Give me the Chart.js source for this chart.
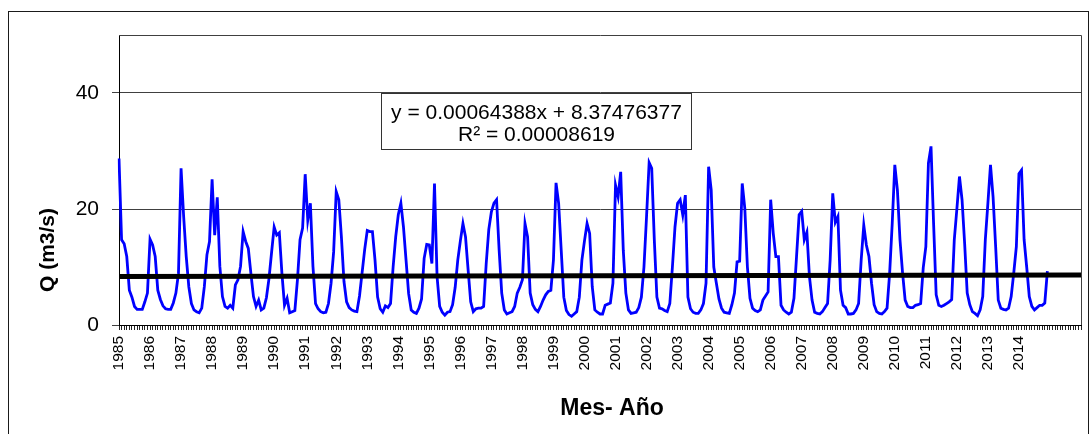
<!DOCTYPE html>
<html>
<head>
<meta charset="utf-8">
<script src="https://cdn.jsdelivr.net/npm/chart.js@4"></script>
<style>
html,body{margin:0;padding:0;background:#fff;}
#wrap{position:relative;width:1091px;height:434px;overflow:hidden;}
canvas{position:absolute;left:0;top:0;}
</style>
</head>
<body>
<div id="wrap"><canvas id="c" width="1091" height="434"></canvas></div>
<script>
// ---- data (monthly discharge Q, m3/s) ----
const years = ['1985','1986','1987','1988','1989','1990','1991','1992','1993','1994',
               '1995','1996','1997','1998','1999','2000','2001','2002','2003','2004',
               '2005','2006','2007','2008','2009','2010','2011','2012','2013','2014'];
const months = ['01','02','03','04','05','06','07','08','09','10','11','12'];

const q1985 = [28.7, 14.7, 14.0, 11.8, 6.0, 4.8, 3.2, 2.7, 2.7, 2.7, 4.0, 5.5];
const q1986 = [14.8, 13.8, 11.8, 6.0, 4.4, 3.3, 2.8, 2.7, 2.7, 3.8, 5.5, 8.9];
const q1987 = [27.0, 18.7, 11.8, 6.6, 3.7, 2.6, 2.3, 2.1, 2.9, 6.6, 12.1, 14.4];
const q1988 = [25.1, 15.5, 22.0, 10.1, 4.9, 3.2, 2.9, 3.4, 2.9, 6.9, 7.8, 10.1];
const q1989 = [16.1, 14.4, 13.2, 8.9, 4.9, 3.2, 4.3, 2.6, 2.9, 4.7, 8.0, 12.5];
const q1990 = [16.9, 15.5, 15.9, 8.9, 3.4, 4.6, 2.1, 2.3, 2.5, 7.8, 14.7, 16.7];
const q1991 = [26.0, 18.1, 21.0, 10.1, 3.7, 2.8, 2.3, 2.1, 2.2, 3.7, 7.2, 12.6];
const q1992 = [23.0, 21.6, 15.2, 7.5, 4.0, 3.0, 2.6, 2.4, 2.3, 5.0, 9.0, 13.0];
const q1993 = [16.3, 16.1, 16.1, 11.2, 4.8, 2.8, 2.2, 3.3, 3.0, 3.7, 10.0, 15.2];
const q1994 = [19.0, 21.0, 16.9, 11.2, 5.4, 2.6, 2.2, 2.0, 2.9, 4.5, 11.5, 13.9];
const q1995 = [13.8, 10.6, 24.4, 8.3, 3.2, 2.2, 1.7, 2.2, 2.3, 3.5, 6.5, 11.2];
const q1996 = [14.5, 17.5, 15.2, 9.5, 4.0, 2.3, 2.8, 2.9, 2.9, 3.2, 10.6, 16.5];
const q1997 = [19.5, 21.0, 21.6, 12.9, 5.5, 2.6, 1.9, 2.1, 2.3, 3.2, 5.5, 6.5];
const q1998 = [7.8, 17.5, 15.2, 5.5, 3.5, 2.7, 2.3, 3.2, 4.3, 5.2, 5.8, 6.0];
const q1999 = [11.2, 24.5, 21.0, 12.9, 4.8, 2.5, 1.8, 1.5, 1.9, 2.3, 4.8, 11.2];
const q2000 = [14.5, 17.5, 15.8, 6.6, 2.6, 2.2, 1.9, 1.9, 3.4, 3.6, 3.8, 7.2];
const q2001 = [24.1, 22.1, 26.4, 12.9, 5.5, 2.6, 2.0, 2.1, 2.2, 3.0, 4.8, 10.0];
const q2002 = [18.7, 28.0, 27.0, 14.7, 4.8, 2.9, 2.8, 2.5, 2.3, 3.7, 10.0, 16.9];
const q2003 = [21.0, 21.6, 19.0, 22.4, 4.8, 2.8, 2.2, 2.0, 2.0, 2.6, 3.7, 7.2];
const q2004 = [27.3, 23.3, 10.0, 7.2, 4.5, 2.9, 2.2, 2.1, 2.0, 3.5, 5.5, 10.9];
const q2005 = [11.0, 24.4, 20.1, 10.0, 4.6, 2.9, 2.5, 2.3, 2.6, 4.3, 5.0, 5.7];
const q2006 = [21.6, 15.8, 11.8, 11.8, 3.4, 2.6, 2.2, 1.9, 2.2, 4.6, 11.8, 19.0];
const q2007 = [19.6, 14.7, 16.0, 8.3, 4.3, 2.2, 2.0, 1.9, 2.3, 3.0, 3.7, 11.2];
const q2008 = [22.7, 17.7, 18.7, 6.0, 3.4, 3.0, 1.9, 1.9, 2.0, 2.6, 3.7, 11.2];
const q2009 = [17.2, 13.8, 11.8, 7.2, 3.5, 2.3, 2.0, 1.9, 2.3, 2.9, 8.9, 17.5];
const q2010 = [27.6, 23.3, 14.7, 9.0, 4.3, 3.2, 3.0, 3.0, 3.4, 3.5, 3.7, 9.9];
const q2011 = [13.5, 27.9, 30.8, 17.5, 5.2, 3.4, 3.2, 3.4, 3.7, 4.0, 4.4, 14.7];
const q2012 = [20.0, 25.6, 21.6, 14.1, 5.5, 3.5, 2.3, 2.0, 1.6, 2.6, 4.9, 14.7];
const q2013 = [21.0, 27.6, 22.1, 13.5, 4.3, 2.9, 2.7, 2.6, 2.9, 4.9, 9.0, 13.5];
const q2014 = [26.1, 26.7, 14.7, 10.0, 4.9, 3.2, 2.6, 3.0, 3.4, 3.4, 3.8, 9.3];

const flow = [].concat(q1985, q1986, q1987, q1988, q1989, q1990, q1991, q1992, q1993, q1994,
                       q1995, q1996, q1997, q1998, q1999, q2000, q2001, q2002, q2003, q2004,
                       q2005, q2006, q2007, q2008, q2009, q2010, q2011, q2012, q2013, q2014);

// linear trend shown on the chart
const trendSlope = 0.00064388;
const trendIntercept = 8.37476377;
const equationLines = ['y = 0.00064388x + 8.37476377', 'R\u00B2 = 0.00008619'];
const yTitle = 'Q (m3/s)';
const xTitle = 'Mes- A\u00F1o';

// category axis: one slot per month, plus empty slots after the series
const categories = [];
years.forEach(y => months.forEach(m => categories.push(y + '-' + m)));
const emptySlots = 13;
for (let k = 1; k <= emptySlots; k++) categories.push('vacío ' + k);

const trendData = categories.map((c, i) =>
  (i === 0 || i === categories.length - 1) ? trendSlope * (i + 1) + trendIntercept : null);

const FONT = "'Liberation Sans', Arial, Helvetica, sans-serif";
Chart.defaults.font.family = FONT;
Chart.defaults.font.size = 15;
Chart.defaults.color = '#000';

const decor = {
  id: 'decor',
  beforeDraw(chart) {
    const ctx = chart.ctx;
    ctx.save();
    ctx.strokeStyle = '#1a1a1a';
    ctx.lineWidth = 1;
    ctx.strokeRect(8.5, 11.5, 1080, 440);
    ctx.restore();
  },
  afterDatasetsDraw(chart) {
    const ctx = chart.ctx, a = chart.chartArea;
    ctx.save();
    // plot area frame (top and right)
    ctx.strokeStyle = '#404040';
    ctx.lineWidth = 1;
    ctx.beginPath();
    ctx.moveTo(a.left, Math.round(a.top) + 0.5);
    ctx.lineTo(Math.round(a.right) + 0.5, Math.round(a.top) + 0.5);
    ctx.lineTo(Math.round(a.right) + 0.5, a.bottom);
    ctx.stroke();
    // trend equation box
    const bx = 381.5, by = 93.5, bw = 310, bh = 56;
    ctx.fillStyle = '#fff';
    ctx.fillRect(bx, by, bw, bh);
    ctx.strokeStyle = '#333';
    ctx.strokeRect(bx, by, bw, bh);
    ctx.fillStyle = '#000';
    ctx.font = '21px ' + FONT;
    ctx.textAlign = 'center';
    ctx.textBaseline = 'alphabetic';
    ctx.fillText(equationLines[0], bx + bw / 2, 119);
    ctx.fillText(equationLines[1], bx + bw / 2, 141);
    // axis titles
    ctx.font = 'bold 23px ' + FONT;
    ctx.fillText(xTitle, 612, 415);
    ctx.translate(54, 250);
    ctx.rotate(-Math.PI / 2);
    ctx.font = 'bold 21px ' + FONT;
    ctx.fillText(yTitle, 0, 0);
    ctx.restore();
  }
};

new Chart(document.getElementById('c'), {
  type: 'line',
  data: {
    labels: categories,
    datasets: [
      { label: 'Tendencia', data: trendData, borderColor: '#000', borderWidth: 5, pointRadius: 0, spanGaps: true, tension: 0, fill: false },
      { label: 'Q', data: flow, borderColor: '#0000FF', borderWidth: 2.8, pointRadius: 0, tension: 0, fill: false }
    ]
  },
  options: {
    responsive: false,
    animation: false,
    devicePixelRatio: 1,
    layout: { padding: { left: 0, right: 10, top: 35, bottom: 0 } },
    plugins: { legend: { display: false }, tooltip: { enabled: false }, title: { display: false } },
    scales: {
      x: {
        type: 'category',
        offset: false,
        grid: { display: true, drawOnChartArea: false, drawTicks: true, tickLength: 5, color: '#222', lineWidth: 1, tickColor: '#222', tickWidth: 1 },
        border: { display: true, color: '#000', width: 1 },
        ticks: {
          autoSkip: false, maxRotation: 90, minRotation: 90, padding: 6,
          color: '#000', font: { family: FONT, size: 15.5, weight: 'normal' },
          callback: (value, index) => (index % 12 === 0 && index / 12 < years.length) ? years[index / 12] : ''
        },
        afterFit: s => { s.height = 109; s.paddingLeft = 0; s.paddingRight = 0; }
      },
      y: {
        min: 0, max: 50,
        grid: { color: '#404040', lineWidth: 1, drawTicks: true, tickLength: 7 },
        border: { display: true, color: '#000', width: 1 },
        ticks: { stepSize: 20, includeBounds: false, padding: 13, color: '#000', font: { family: FONT, size: 21 } },
        afterFit: s => { s.width = 119; s.paddingTop = 0; s.paddingBottom = 0; }
      }
    }
  },
  plugins: [decor]
});
</script>
</body>
</html>
